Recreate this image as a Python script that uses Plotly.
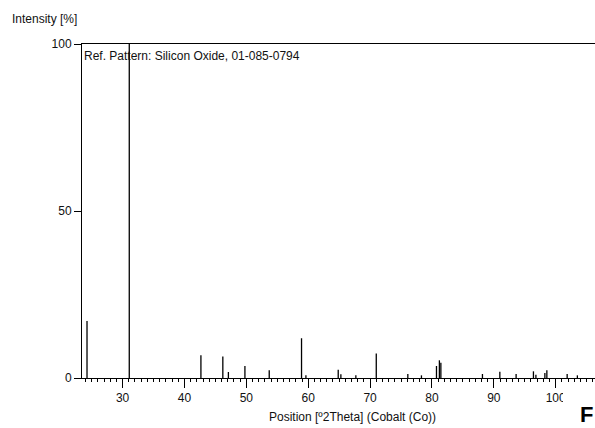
import plotly.graph_objects as go

# Reference pattern peaks: position [°2Theta] and relative intensity [%]
positions = [24.25, 31.08, 42.66, 46.2, 47.1, 49.77, 53.7, 58.92, 59.63,
             64.85, 65.28, 67.7, 71.0, 76.1, 78.3, 80.73, 81.2, 81.44,
             88.16, 90.97, 93.6, 96.4, 96.8, 98.25, 98.57, 101.85, 103.5]
intensities = [17.1, 100, 6.8, 6.4, 1.8, 3.6, 2.3, 11.9, 0.8,
               2.5, 1.1, 0.8, 7.3, 1.2, 0.8, 3.6, 5.3, 4.6,
               1.2, 1.9, 1.2, 2.0, 1.0, 1.5, 2.3, 1.2, 0.8]
x_ticks = [30, 40, 50, 60, 70, 80, 90, 100]
y_ticks = [0, 50, 100]

W, H = 595, 428
L, R, T, B = 82, 0, 44, 50
FONT = "Liberation Sans, Arial, sans-serif"

def px_x(px):
    return (px - L) / (W - L - R)

def px_y(py):
    return 1 - (py - T) / (H - T - B)

xs, ys = [], []
for p, h in zip(positions, intensities):
    xs += [p, p, None]
    ys += [0, h, None]

fig = go.Figure()
fig.add_trace(go.Scatter(x=xs, y=ys, mode="lines",
                         line=dict(color="black", width=1.3),
                         hoverinfo="skip", showlegend=False))

fig.update_layout(
    width=W, height=H,
    margin=dict(l=L, r=R, t=T, b=B, pad=0),
    paper_bgcolor="white", plot_bgcolor="white",
    font=dict(family=FONT, size=12, color="#111"),
    showlegend=False,
    xaxis=dict(range=[23.44, 106.35], tickvals=x_ticks,
               ticktext=[str(v) for v in x_ticks],
               showgrid=False, zeroline=False,
               showline=True, linecolor="black", linewidth=1, mirror=True,
               ticks="outside", ticklen=9, tickcolor="black", tickwidth=1,
               minor=dict(dtick=1, tick0=0, ticks="outside", ticklen=3,
                          tickcolor="black", tickwidth=1, showgrid=False),
               tickfont=dict(family=FONT, size=12, color="#111")),
    yaxis=dict(range=[0, 100], tickvals=y_ticks,
               showgrid=False, zeroline=False,
               showline=True, linecolor="black", linewidth=1, mirror=False,
               ticks="outside", ticklen=7, tickcolor="black", tickwidth=1,
               tickfont=dict(family=FONT, size=12, color="#111")),
    annotations=[
        dict(text="Intensity [%]", xref="paper", yref="paper",
             x=px_x(10), y=px_y(19), xanchor="left", yanchor="middle",
             showarrow=False, font=dict(family=FONT, size=12, color="#111")),
        dict(text="Ref. Pattern: Silicon Oxide, 01-085-0794", xref="paper", yref="paper",
             x=px_x(82), y=px_y(56), xanchor="left", yanchor="middle",
             showarrow=False, font=dict(family=FONT, size=12, color="#111")),
        dict(text="Position [º2Theta] (Cobalt (Co))", xref="paper", yref="paper",
             x=px_x(352), y=px_y(417), xanchor="center", yanchor="middle",
             showarrow=False, font=dict(family=FONT, size=12, color="#111")),
        dict(text="<b>F</b>", xref="paper", yref="paper",
             x=px_x(594), y=px_y(414), xanchor="right", yanchor="middle",
             showarrow=False, borderpad=0, font=dict(family=FONT, size=22, color="black")),
    ],
    shapes=[
        dict(type="rect", xref="paper", yref="paper", layer="above",
             x0=px_x(563), x1=px_x(578), y0=px_y(408), y1=px_y(389),
             fillcolor="white", line=dict(width=0)),
    ],
)

fig.write_html("out.html")
